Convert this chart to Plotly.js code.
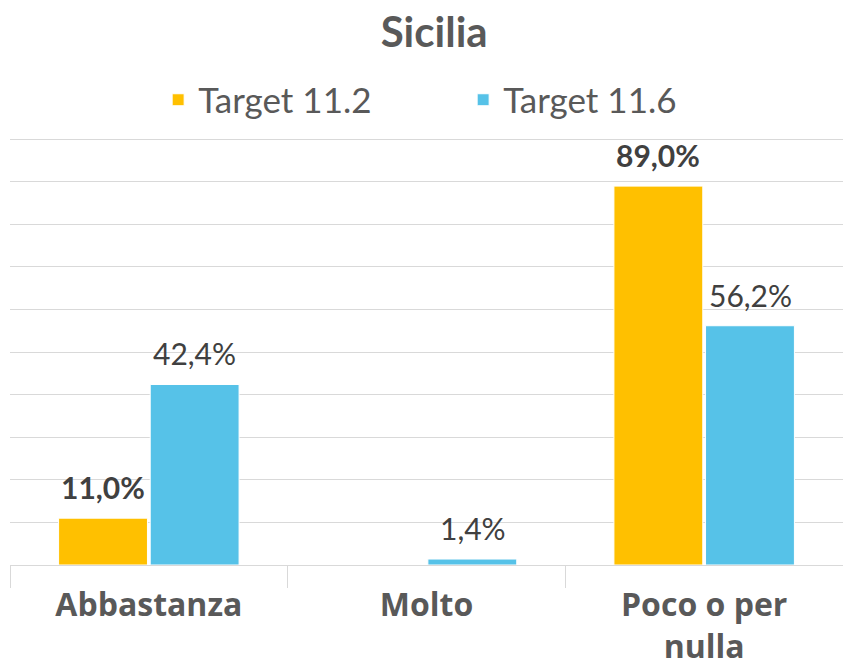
<!DOCTYPE html>
<html>
<head>
<meta charset="utf-8">
<script src="https://cdn.plot.ly/plotly-3.0.1.min.js"></script>
<style>html,body{margin:0;padding:0;background:#fff;}#chart{width:843px;height:669px;}</style>
</head>
<body>
<div id="chart"></div>
<script>
var categories = ["Abbastanza", "Molto", "Poco o per<br>nulla"];
var seriesNames = ["Target 11.2", "Target 11.6"];
var target112 = [11.0, 0.0, 89.0];
var target116 = [42.4, 1.4, 56.2];

function fmt(v) { return v > 0 ? v.toFixed(1).replace('.', ',') + '%' : ''; }

var FONT = "Lato, 'Open Sans', sans-serif";
var data = [
  {
    type: 'bar', name: seriesNames[0], x: categories, y: target112,
    marker: {color: '#FFC000', line: {color: '#ffffff', width: 1}},
    hoverinfo: 'none'
  },
  {
    type: 'bar', name: seriesNames[1], x: categories, y: target116,
    marker: {color: '#56C2E8', line: {color: '#ffffff', width: 1}},
    hoverinfo: 'none'
  }
];

// data labels anchored to each bar's value via the axis scales
var annotations = [];
[target112, target116].forEach(function (vals, s) {
  vals.forEach(function (v, i) {
    var t = fmt(v);
    if (!t) return;
    annotations.push({
      xref: 'x', yref: 'y', x: categories[i], y: v,
      text: s === 0 ? '<b>' + t + '</b>' : t,
      showarrow: false, xanchor: 'center', yanchor: 'middle',
      xshift: s === 0 ? -46 : 46, yshift: 31,
      font: {family: FONT, size: 30, color: '#404040'}
    });
  });
});

var layout = {
  width: 843, height: 669,
  margin: {l: 10, r: 0, t: 138, b: 104},
  paper_bgcolor: '#ffffff', plot_bgcolor: '#ffffff',
  font: {family: FONT, color: '#595959'},
  title: {text: '<b>Sicilia</b>', font: {family: FONT, size: 42, color: '#595959'},
          x: 0.515, xanchor: 'center', y: 0.951, yanchor: 'middle', yref: 'container'},
  showlegend: true,
  legend: {orientation: 'h', x: 0.544, xanchor: 'center', y: 1.089, yanchor: 'middle',
           font: {family: FONT, size: 35, color: '#595959'},
           entrywidth: 260, entrywidthmode: 'pixels', traceorder: 'normal'},
  barmode: 'group', bargap: 0.34, bargroupgap: 0.03,
  annotations: annotations,
  xaxis: {
    type: 'category', tickson: 'boundaries', ticks: 'outside', ticklen: 22,
    tickcolor: '#d9d9d9', tickwidth: 1, showline: true, linecolor: '#d9d9d9', linewidth: 1,
    showgrid: false, ticklabelstandoff: 12,
    tickfont: {family: "'Open Sans', Lato, sans-serif", size: 32, color: '#595959', weight: 'bold'}
  },
  yaxis: {
    range: [0, 100.3], dtick: 10, showticklabels: false, ticks: '',
    showgrid: true, gridcolor: '#d9d9d9', gridwidth: 1, zeroline: false, showline: false
  }
};

Plotly.newPlot('chart', data, layout, {displayModeBar: false, staticPlot: true});
</script>
</body>
</html>
